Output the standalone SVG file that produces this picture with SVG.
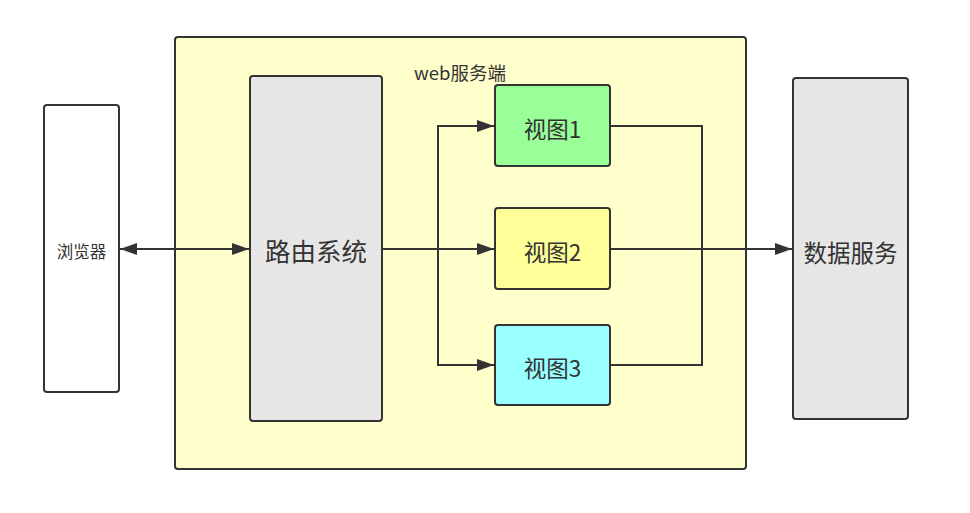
<svg xmlns="http://www.w3.org/2000/svg" width="970" height="513" viewBox="0 0 970 513">
<style>
  .box{stroke:#333333;stroke-width:2}
  .t{font-family:"Noto Sans CJK SC","Liberation Sans",sans-serif;fill:#333333;text-anchor:middle;dominant-baseline:central}
  .c{fill:none;stroke:#333333;stroke-width:2}
</style>
<defs>
  <marker id="ah" viewBox="0 0 10 10" refX="10" refY="5" markerWidth="8.5" markerHeight="8.5" orient="auto-start-reverse" markerUnits="strokeWidth">
    <path d="M0,1.5 L10,5 L0,8.5 Z" fill="#333333"/>
  </marker>
</defs>
<rect width="970" height="513" fill="#ffffff"/>
<g id="web">
  <rect class="box" x="175" y="37" width="571" height="432" rx="3" fill="#FFFFCC"/>
  <text class="t" x="460" y="72" font-size="18.5">web服务端</text>
</g>
<g id="browser">
  <rect class="box" x="44" y="105" width="75" height="287" rx="3" fill="#ffffff"/>
  <text class="t" x="81.5" y="251" font-size="16.5">浏览器</text>
</g>
<g id="router">
  <rect class="box" x="250" y="76" width="132" height="345" rx="3" fill="#E6E6E6"/>
  <text class="t" x="316" y="249" font-size="25.5">路由系统</text>
</g>
<g id="view1">
  <rect class="box" x="495" y="85" width="115" height="81" rx="3" fill="#99FF99"/>
  <text class="t" x="552.5" y="128" font-size="22.5">视图1</text>
</g>
<g id="view2">
  <rect class="box" x="495" y="208" width="115" height="81" rx="3" fill="#FFFF99"/>
  <text class="t" x="552.5" y="251" font-size="22.5">视图2</text>
</g>
<g id="view3">
  <rect class="box" x="495" y="325" width="115" height="80" rx="3" fill="#99FFFF"/>
  <text class="t" x="552.5" y="367" font-size="22.5">视图3</text>
</g>
<g id="data">
  <rect class="box" x="793" y="78" width="115" height="341" rx="3" fill="#E6E6E6"/>
  <text class="t" x="850.5" y="252" font-size="23.5">数据服务</text>
</g>
<g id="connectors">
  <path class="c" d="M120,249 L249,249" marker-start="url(#ah)" marker-end="url(#ah)"/>
  <path class="c" d="M382,249 L494,249" marker-end="url(#ah)"/>
  <path class="c" d="M438,249 L438,126 L494,126" marker-end="url(#ah)"/>
  <path class="c" d="M438,249 L438,365 L494,365" marker-end="url(#ah)"/>
  <path class="c" d="M610,249 L792,249" marker-end="url(#ah)"/>
  <path class="c" d="M610,126 L702,126 L702,365 L610,365"/>
</g>
</svg>
